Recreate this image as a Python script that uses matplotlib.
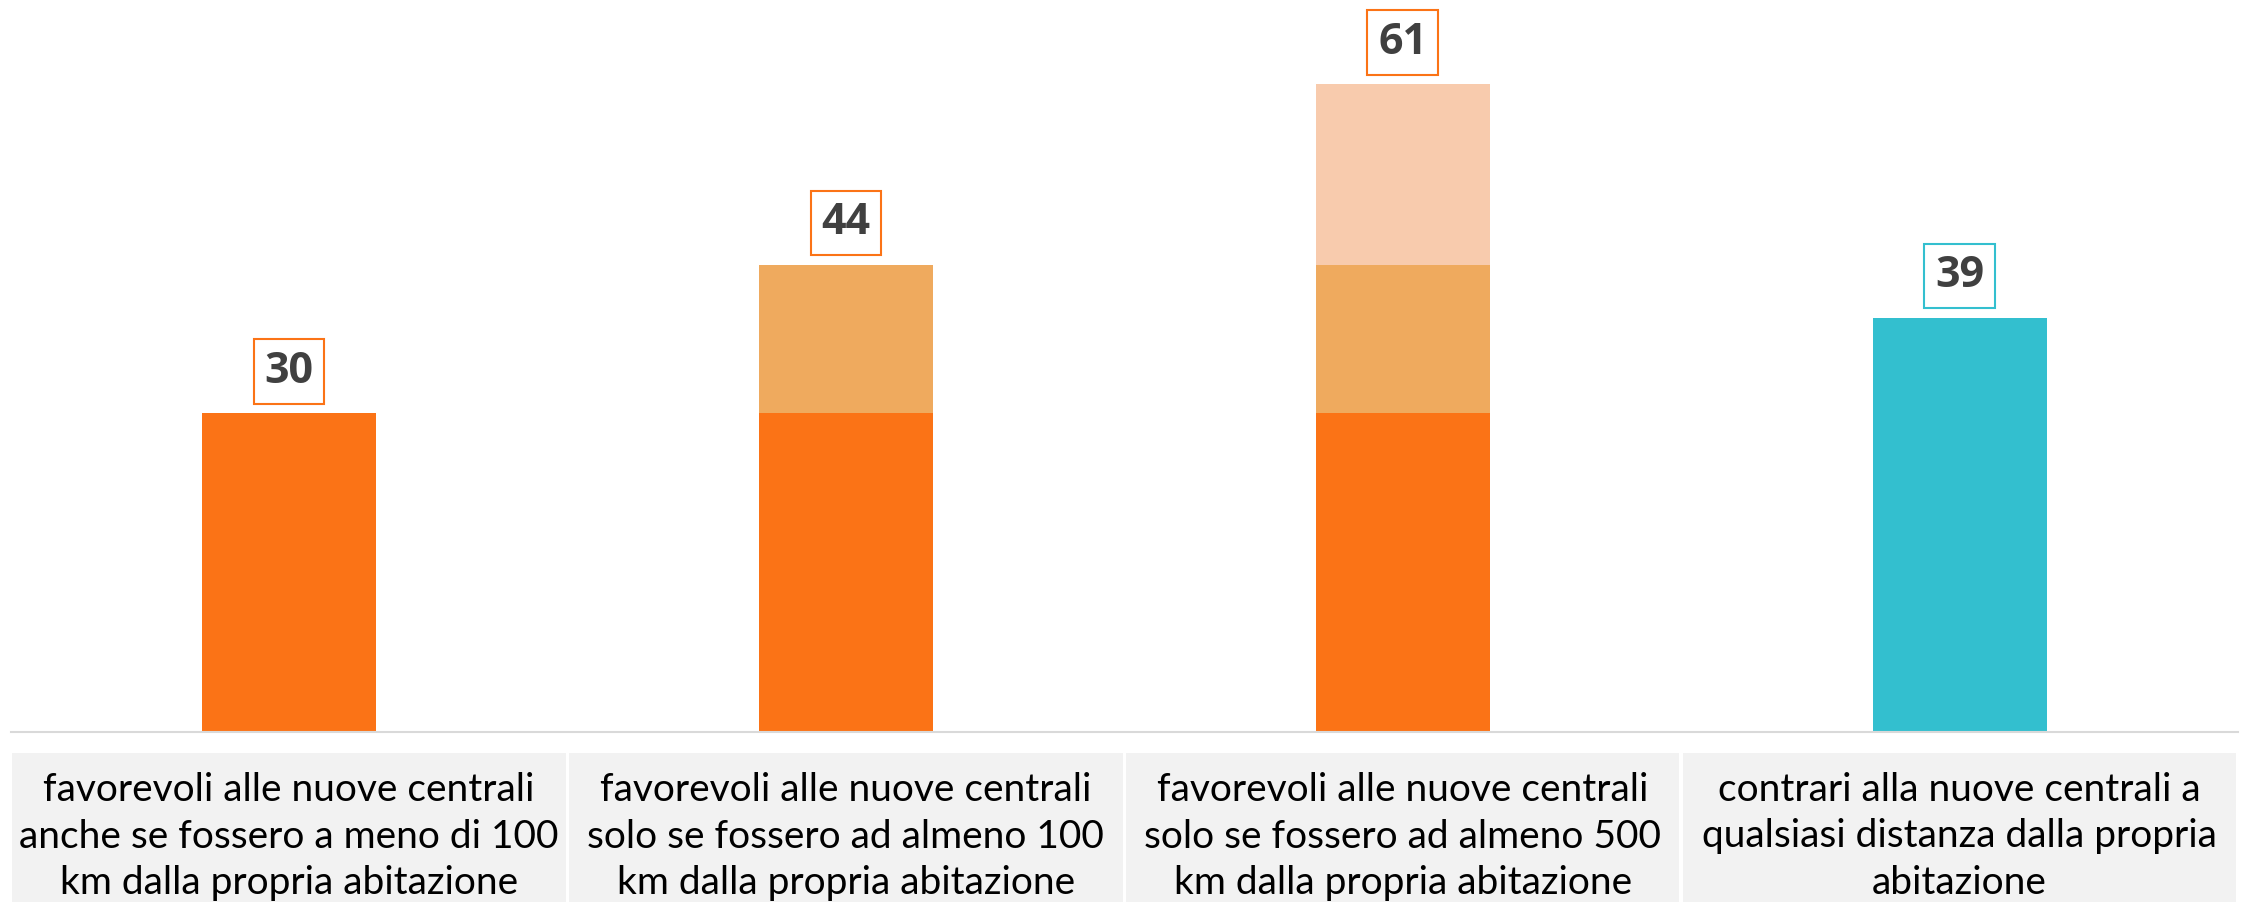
import matplotlib
matplotlib.use("Agg")
import matplotlib.pyplot as plt
from matplotlib import transforms
from matplotlib.patches import Rectangle

# data
categories = [
    "favorevoli alle nuove centrali\nanche se fossero a meno di 100\nkm dalla propria abitazione",
    "favorevoli alle nuove centrali\nsolo se fossero ad almeno 100\nkm dalla propria abitazione",
    "favorevoli alle nuove centrali\nsolo se fossero ad almeno 500\nkm dalla propria abitazione",
    "contrari alla nuove centrali a\nqualsiasi distanza dalla propria\nabitazione",
]
base_vals = [30, 30, 30, 0]
mid_vals = [0, 14, 14, 0]
top_vals = [0, 0, 17, 0]
contrari_vals = [0, 0, 0, 39]
totals = [30, 44, 61, 39]

c_dark = "#FB7316"
c_mid = "#EFAA5E"
c_light = "#F8CBAD"
c_teal = "#33BFCF"
box_edges = [c_dark, c_dark, c_dark, c_teal]

W, H = 2244, 902
fig = plt.figure(figsize=(W / 100, H / 100), dpi=100)
ax = fig.add_axes([10.5 / W, 1 - 732 / H, (2238 - 10.5) / W, 732 / H])

x = list(range(len(categories)))
bw = 0.3125
ax.bar(x, base_vals, width=bw, color=c_dark)
bottom2 = base_vals
ax.bar(x, mid_vals, width=bw, bottom=bottom2, color=c_mid)
bottom3 = [a + b for a, b in zip(base_vals, mid_vals)]
ax.bar(x, top_vals, width=bw, bottom=bottom3, color=c_light)
ax.bar(x, contrari_vals, width=bw, color=c_teal)

ax.set_xlim(-0.5, len(categories) - 0.5)
ax.set_ylim(0, 68.9)
for s in ["top", "right", "left"]:
    ax.spines[s].set_visible(False)
ax.spines["bottom"].set_color("#D9D9D9")
ax.spines["bottom"].set_linewidth(1.5)
ax.set_xticks([])
ax.set_yticks([])

# value labels in boxes
for xi, t, ec in zip(x, totals, box_edges):
    ax.annotate(str(t), (xi, t), xytext=(0, 30), textcoords="offset points",
                ha="center", va="center", fontsize=31, fontweight="bold",
                family="Open Sans", color="#404040",
                bbox=dict(boxstyle="square,pad=0.25", fc="white", ec=ec, lw=1.5))

# category label cells below the axis
trans = transforms.blended_transform_factory(ax.transData, fig.transFigure)
gap = 0.003
cell_top = 1 - 753 / H
for xi, lab in zip(x, categories):
    fig.patches.append(Rectangle((xi - 0.5 + gap, 0), 1 - 2 * gap, cell_top,
                                 transform=trans, fc="#F2F2F2", ec="none"))
    for j, line in enumerate(lab.split("\n")):
        ypx = 790 + 46.5 * j
        fig.text(xi, 1 - ypx / H, line, transform=trans, ha="center", va="center",
                 fontsize=28, family="Lato", color="black")

fig.savefig("out.png", dpi=100)
